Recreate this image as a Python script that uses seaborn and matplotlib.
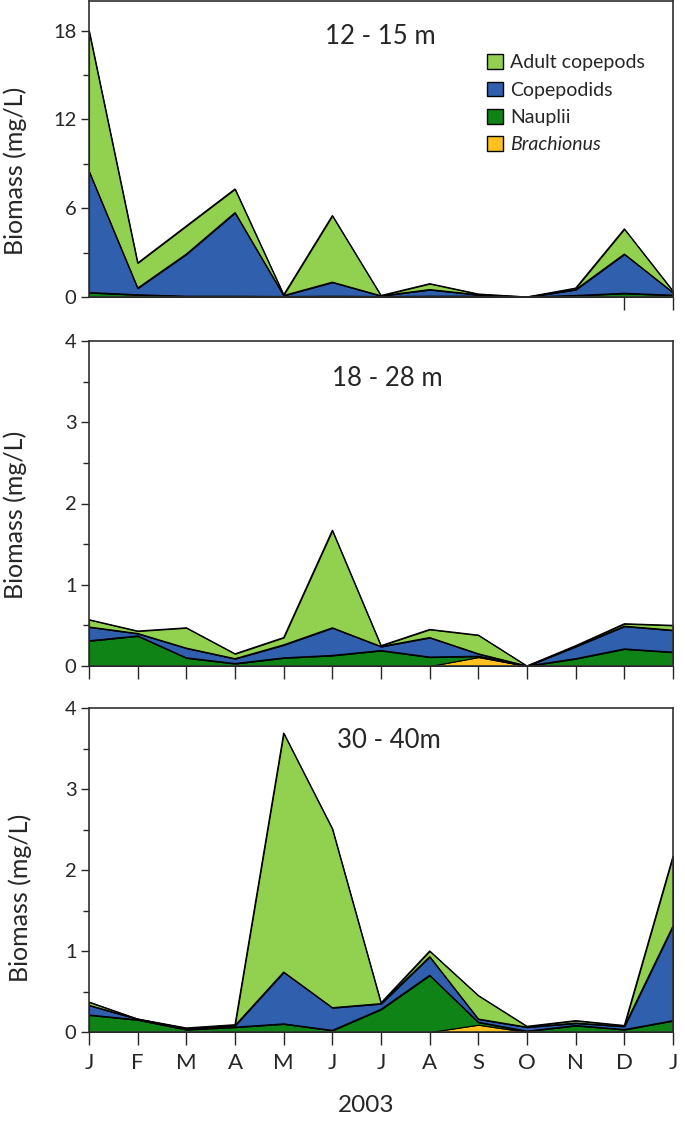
import numpy as np
import pandas as pd
import matplotlib
matplotlib.use("Agg")
import matplotlib.pyplot as plt
import seaborn as sns
from matplotlib.patches import Patch
from matplotlib.ticker import MultipleLocator

# months Jan 2003 .. Jan 2004
months = ["J", "F", "M", "A", "M", "J", "J", "A", "S", "O", "N", "D", "J"]

# 12 - 15 m
brach_12 = [0, 0, 0, 0, 0, 0, 0, 0, 0, 0, 0, 0, 0]
naup_12 = [0.3, 0.15, 0.05, 0.05, 0.03, 0.05, 0.03, 0.05, 0.05, 0, 0.1, 0.25, 0.12]
cop_12 = [8.2, 0.45, 2.85, 5.65, 0.07, 0.95, 0.05, 0.45, 0.1, 0, 0.4, 2.65, 0.18]
adult_12 = [9.5, 1.7, 1.9, 1.6, 0.05, 4.5, 0.02, 0.4, 0.05, 0, 0.1, 1.7, 0.1]

# 18 - 28 m
brach_18 = [0, 0, 0, 0, 0, 0, 0, 0, 0.11, 0, 0, 0, 0]
naup_18 = [0.31, 0.37, 0.10, 0.03, 0.10, 0.13, 0.19, 0.11, 0.01, 0, 0.09, 0.21, 0.17]
cop_18 = [0.17, 0.03, 0.12, 0.06, 0.16, 0.34, 0.05, 0.24, 0.03, 0, 0.15, 0.28, 0.27]
adult_18 = [0.09, 0.03, 0.25, 0.06, 0.09, 1.20, 0.01, 0.10, 0.23, 0, 0.01, 0.03, 0.06]

# 30 - 40 m
brach_30 = [0, 0, 0, 0, 0, 0, 0, 0, 0.09, 0, 0, 0, 0]
naup_30 = [0.21, 0.15, 0.03, 0.06, 0.10, 0.02, 0.28, 0.70, 0.03, 0.01, 0.08, 0.03, 0.14]
cop_30 = [0.12, 0.01, 0.01, 0.02, 0.64, 0.28, 0.07, 0.23, 0.04, 0.05, 0.03, 0.04, 1.17]
adult_30 = [0.04, 0, 0.01, 0.01, 2.95, 2.21, 0.01, 0.07, 0.29, 0.01, 0.03, 0.01, 0.86]

groups = ["Brachionus", "Nauplii", "Copepodids", "Adult copepods"]
colors = {"Adult copepods": "#92d050", "Copepodids": "#305fae",
          "Nauplii": "#108317", "Brachionus": "#fec11f"}

sns.set_style("ticks")
plt.rcParams["font.family"] = ["Lato", "DejaVu Sans"]

fig = plt.figure(figsize=(6.85, 11.23), dpi=100)
W, H = 685, 1123


def add_ax(top, bottom, left=89, right=673):
    return fig.add_axes([left / W, (H - bottom) / H, (right - left) / W, (bottom - top) / H])


# axes, series, title, ymax, major, minor, title pos, ylabel pos
panels = [
    (add_ax(1, 297), (brach_12, naup_12, cop_12, adult_12), "12 - 15 m",
     20, 6, 3, (0.498, 0.88), (-0.127, 0.426)),
    (add_ax(341, 666), (brach_18, naup_18, cop_18, adult_18), "18 - 28 m",
     4, 1, 0.5, (0.51, 0.886), (-0.127, 0.465)),
    (add_ax(708, 1032), (brach_30, naup_30, cop_30, adult_30), "30 - 40m",
     4, 1, 0.5, (0.514, 0.90), (-0.118, 0.414)),
]

x = np.arange(len(months))
for i, (ax, series, title, ymax, major, minor, tpos, lpos) in enumerate(panels):
    ax.stackplot(x, *series, colors=[colors[g] for g in groups],
                 edgecolor="black", linewidth=0.8)
    cum = pd.DataFrame(np.cumsum(np.array(series), axis=0).T, columns=groups)
    cum["x"] = x
    for g in groups[1:]:
        sns.lineplot(data=cum, x="x", y=g, ax=ax, color="black", linewidth=0.9)
    ax.set_xlim(0, 12)
    ax.set_ylim(0, ymax)
    ax.yaxis.set_major_locator(MultipleLocator(major))
    ax.yaxis.set_minor_locator(MultipleLocator(minor))
    if i == 0:
        ax.set_yticks([0, 6, 12, 18])
    ax.tick_params(axis="y", which="major", length=6, width=1, labelsize=14.5, pad=3)
    ax.tick_params(axis="y", which="minor", length=4, width=1)
    ax.tick_params(axis="x", length=9, width=1, labelsize=16, pad=6)
    if i == 0:
        ax.set_xticks([11, 12])
        ax.set_xticklabels([])
    elif i == 1:
        ax.set_xticks(x)
        ax.set_xticklabels([])
    else:
        ax.set_xticks(x)
        ax.set_xticklabels(months)
    for s in ax.spines.values():
        s.set_color("#303030")
        s.set_linewidth(1.2)
    ax.set_ylabel("Biomass (mg/L)", fontsize=18, va="center")
    ax.yaxis.set_label_coords(*lpos)
    ax.set_xlabel("")
    ax.text(tpos[0], tpos[1], title, transform=ax.transAxes, fontsize=18.5,
            ha="center", va="center")

ax0 = panels[0][0]
handles = [Patch(facecolor=colors[g], edgecolor="black", linewidth=1)
           for g in groups[::-1]]
leg = ax0.legend(handles, groups[::-1], loc="upper left", bbox_to_anchor=(0.665, 0.853),
                 frameon=False, fontsize=14, handlelength=0.8, handleheight=0.8,
                 handletextpad=0.4, labelspacing=0.52, borderpad=0)
leg.get_texts()[3].set_fontstyle("italic")

ax2 = panels[2][0]
ax2.set_xlabel("2003", fontsize=17.5)
ax2.xaxis.set_label_coords(0.474, -0.228)
ax2.xaxis.label.set_va("center")

fig.savefig("out.png", dpi=100)
